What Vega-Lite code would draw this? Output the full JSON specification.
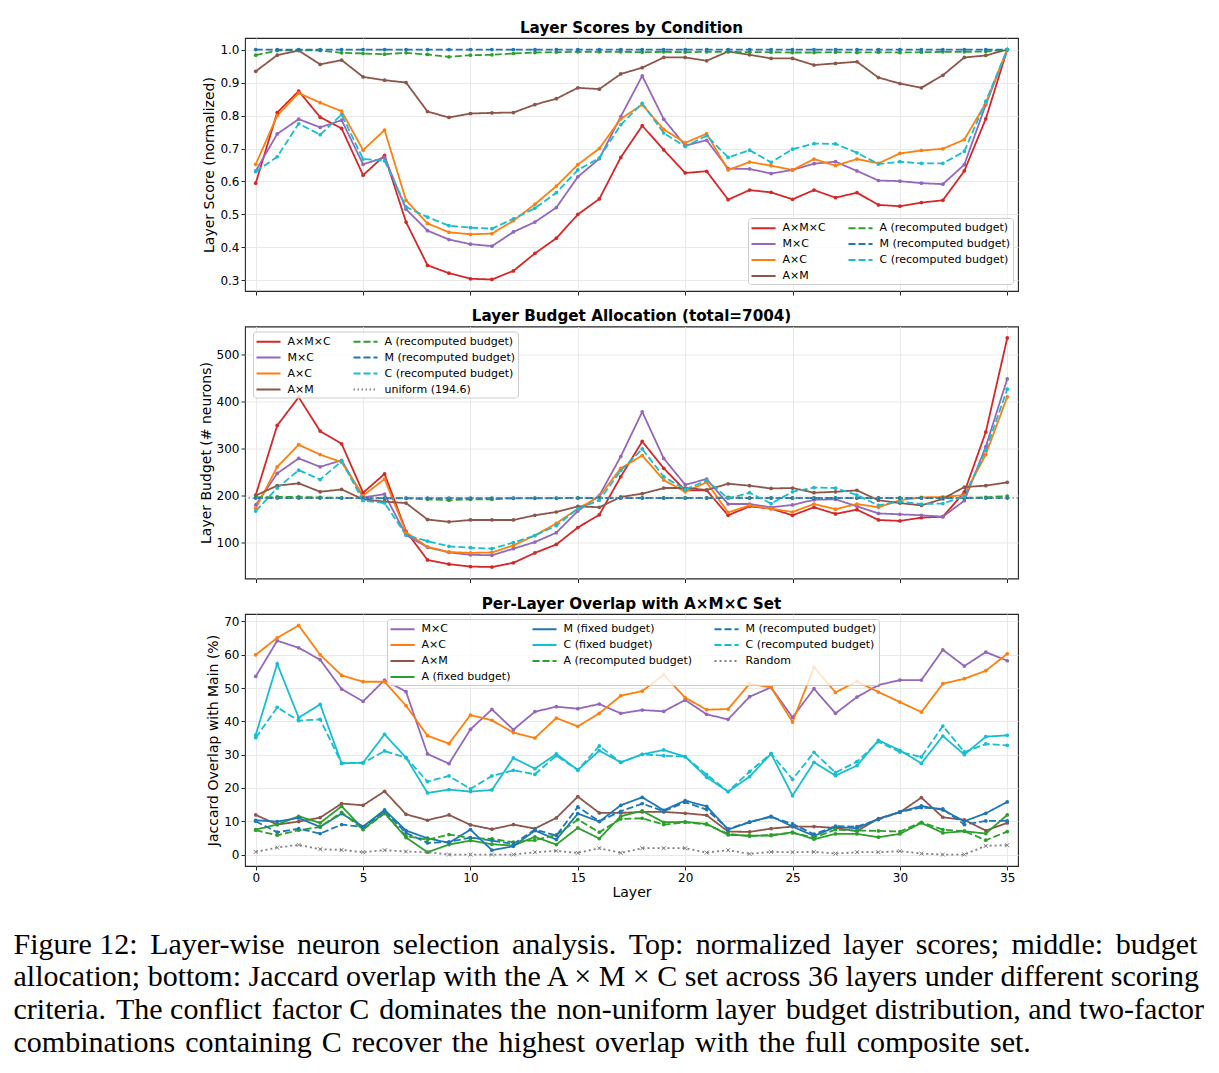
{
"$schema":"https://vega.github.io/schema/vega-lite/v6.json",
"padding":{"left":13,"top":20,"right":5,"bottom":5},
"config":{
 "font":"DejaVu Sans",
 "view":{"stroke":"#262626","strokeWidth":1.1},
 "axis":{"labelFont":"DejaVu Sans","labelFontSize":12,"labelColor":"#000","titleFont":"DejaVu Sans","titleFontSize":14,"titleFontWeight":"normal","titleColor":"#000","gridColor":"#e6e6e6","gridWidth":0.9,"domain":false,"tickColor":"#262626","tickSize":4,"labelPadding":2,"titlePadding":3},
 "legend":{"labelFont":"DejaVu Sans","labelFontSize":11,"labelColor":"#000","symbolType":"M-1,0H2.7","symbolStrokeWidth":1.8,"symbolSize":169,"labelOffset":17,"rowPadding":3,"columnPadding":18,"padding":2.5,"fillColor":"rgba(255,255,255,0.8)","strokeColor":"#cccccc","cornerRadius":3,"labelLimit":400},
 "title":{"font":"DejaVu Sans","fontSize":15.2,"fontWeight":"bold","color":"#000"}
},
"title":{"text":["Figure 12: \u200a\u200aLayer-wise \u200a\u200aneuron \u200a\u200aselection \u200a\u200aanalysis. \u200a\u200aTop: \u200a\u200anormalized \u200a\u200alayer \u200a\u200ascores; \u200a\u200amiddle: \u200a\u200abudget","allocation; bottom: Jaccard overlap with the A × M × C set across 36 layers under different scoring","criteria. \u200aThe conflict \u200afactor C \u200adominates the \u200anon-uniform layer \u200abudget distribution, and two-factor","combinations \u200acontaining \u200aC \u200arecover \u200athe \u200ahighest \u200aoverlap \u200awith \u200athe \u200afull \u200acomposite \u200aset."],"orient":"bottom","anchor":"start","frame":"bounds","font":"Liberation Serif","fontSize":30,"fontWeight":"normal","lineHeight":32.8,"offset":30,"dx":-185,"baseline":"top","color":"#000"},
"spacing":11.5,
"resolve":{"scale":{"color":"independent","strokeDash":"independent"},"legend":{"color":"independent","strokeDash":"independent"}},
"datasets":{
"top":[
{"layer":0,"s":"A×M×C","v":0.595},{"layer":1,"s":"A×M×C","v":0.809},{"layer":2,"s":"A×M×C","v":0.874},{"layer":3,"s":"A×M×C","v":0.795},{"layer":4,"s":"A×M×C","v":0.761},{"layer":5,"s":"A×M×C","v":0.619},{"layer":6,"s":"A×M×C","v":0.679},{"layer":7,"s":"A×M×C","v":0.477},{"layer":8,"s":"A×M×C","v":0.346},{"layer":9,"s":"A×M×C","v":0.322},{"layer":10,"s":"A×M×C","v":0.305},{"layer":11,"s":"A×M×C","v":0.303},{"layer":12,"s":"A×M×C","v":0.329},{"layer":13,"s":"A×M×C","v":0.382},{"layer":14,"s":"A×M×C","v":0.428},{"layer":15,"s":"A×M×C","v":0.5},{"layer":16,"s":"A×M×C","v":0.547},{"layer":17,"s":"A×M×C","v":0.673},{"layer":18,"s":"A×M×C","v":0.769},{"layer":19,"s":"A×M×C","v":0.696},{"layer":20,"s":"A×M×C","v":0.626},{"layer":21,"s":"A×M×C","v":0.631},{"layer":22,"s":"A×M×C","v":0.545},{"layer":23,"s":"A×M×C","v":0.574},{"layer":24,"s":"A×M×C","v":0.567},{"layer":25,"s":"A×M×C","v":0.546},{"layer":26,"s":"A×M×C","v":0.574},{"layer":27,"s":"A×M×C","v":0.551},{"layer":28,"s":"A×M×C","v":0.566},{"layer":29,"s":"A×M×C","v":0.529},{"layer":30,"s":"A×M×C","v":0.525},{"layer":31,"s":"A×M×C","v":0.536},{"layer":32,"s":"A×M×C","v":0.543},{"layer":33,"s":"A×M×C","v":0.632},{"layer":34,"s":"A×M×C","v":0.79},{"layer":35,"s":"A×M×C","v":1.0},
{"layer":0,"s":"M×C","v":0.632},{"layer":1,"s":"M×C","v":0.744},{"layer":2,"s":"M×C","v":0.789},{"layer":3,"s":"M×C","v":0.764},{"layer":4,"s":"M×C","v":0.786},{"layer":5,"s":"M×C","v":0.652},{"layer":6,"s":"M×C","v":0.673},{"layer":7,"s":"M×C","v":0.516},{"layer":8,"s":"M×C","v":0.451},{"layer":9,"s":"M×C","v":0.424},{"layer":10,"s":"M×C","v":0.41},{"layer":11,"s":"M×C","v":0.404},{"layer":12,"s":"M×C","v":0.447},{"layer":13,"s":"M×C","v":0.477},{"layer":14,"s":"M×C","v":0.521},{"layer":15,"s":"M×C","v":0.614},{"layer":16,"s":"M×C","v":0.669},{"layer":17,"s":"M×C","v":0.797},{"layer":18,"s":"M×C","v":0.92},{"layer":19,"s":"M×C","v":0.789},{"layer":20,"s":"M×C","v":0.709},{"layer":21,"s":"M×C","v":0.725},{"layer":22,"s":"M×C","v":0.639},{"layer":23,"s":"M×C","v":0.638},{"layer":24,"s":"M×C","v":0.624},{"layer":25,"s":"M×C","v":0.635},{"layer":26,"s":"M×C","v":0.654},{"layer":27,"s":"M×C","v":0.66},{"layer":28,"s":"M×C","v":0.632},{"layer":29,"s":"M×C","v":0.603},{"layer":30,"s":"M×C","v":0.601},{"layer":31,"s":"M×C","v":0.595},{"layer":32,"s":"M×C","v":0.592},{"layer":33,"s":"M×C","v":0.651},{"layer":34,"s":"M×C","v":0.833},{"layer":35,"s":"M×C","v":1.0},
{"layer":0,"s":"A×C","v":0.652},{"layer":1,"s":"A×C","v":0.8},{"layer":2,"s":"A×C","v":0.868},{"layer":3,"s":"A×C","v":0.839},{"layer":4,"s":"A×C","v":0.813},{"layer":5,"s":"A×C","v":0.695},{"layer":6,"s":"A×C","v":0.756},{"layer":7,"s":"A×C","v":0.543},{"layer":8,"s":"A×C","v":0.473},{"layer":9,"s":"A×C","v":0.446},{"layer":10,"s":"A×C","v":0.44},{"layer":11,"s":"A×C","v":0.442},{"layer":12,"s":"A×C","v":0.481},{"layer":13,"s":"A×C","v":0.531},{"layer":14,"s":"A×C","v":0.586},{"layer":15,"s":"A×C","v":0.651},{"layer":16,"s":"A×C","v":0.7},{"layer":17,"s":"A×C","v":0.79},{"layer":18,"s":"A×C","v":0.833},{"layer":19,"s":"A×C","v":0.758},{"layer":20,"s":"A×C","v":0.717},{"layer":21,"s":"A×C","v":0.745},{"layer":22,"s":"A×C","v":0.635},{"layer":23,"s":"A×C","v":0.659},{"layer":24,"s":"A×C","v":0.648},{"layer":25,"s":"A×C","v":0.635},{"layer":26,"s":"A×C","v":0.668},{"layer":27,"s":"A×C","v":0.648},{"layer":28,"s":"A×C","v":0.668},{"layer":29,"s":"A×C","v":0.655},{"layer":30,"s":"A×C","v":0.685},{"layer":31,"s":"A×C","v":0.694},{"layer":32,"s":"A×C","v":0.699},{"layer":33,"s":"A×C","v":0.727},{"layer":34,"s":"A×C","v":0.838},{"layer":35,"s":"A×C","v":1.0},
{"layer":0,"s":"A×M","v":0.934},{"layer":1,"s":"A×M","v":0.983},{"layer":2,"s":"A×M","v":0.997},{"layer":3,"s":"A×M","v":0.955},{"layer":4,"s":"A×M","v":0.968},{"layer":5,"s":"A×M","v":0.917},{"layer":6,"s":"A×M","v":0.907},{"layer":7,"s":"A×M","v":0.9},{"layer":8,"s":"A×M","v":0.812},{"layer":9,"s":"A×M","v":0.794},{"layer":10,"s":"A×M","v":0.806},{"layer":11,"s":"A×M","v":0.808},{"layer":12,"s":"A×M","v":0.809},{"layer":13,"s":"A×M","v":0.833},{"layer":14,"s":"A×M","v":0.851},{"layer":15,"s":"A×M","v":0.884},{"layer":16,"s":"A×M","v":0.88},{"layer":17,"s":"A×M","v":0.926},{"layer":18,"s":"A×M","v":0.945},{"layer":19,"s":"A×M","v":0.976},{"layer":20,"s":"A×M","v":0.976},{"layer":21,"s":"A×M","v":0.966},{"layer":22,"s":"A×M","v":0.994},{"layer":23,"s":"A×M","v":0.984},{"layer":24,"s":"A×M","v":0.973},{"layer":25,"s":"A×M","v":0.973},{"layer":26,"s":"A×M","v":0.953},{"layer":27,"s":"A×M","v":0.958},{"layer":28,"s":"A×M","v":0.963},{"layer":29,"s":"A×M","v":0.915},{"layer":30,"s":"A×M","v":0.897},{"layer":31,"s":"A×M","v":0.884},{"layer":32,"s":"A×M","v":0.922},{"layer":33,"s":"A×M","v":0.976},{"layer":34,"s":"A×M","v":0.982},{"layer":35,"s":"A×M","v":1.0},
{"layer":0,"s":"A (recomputed budget)","v":0.983},{"layer":1,"s":"A (recomputed budget)","v":0.997},{"layer":2,"s":"A (recomputed budget)","v":0.998},{"layer":3,"s":"A (recomputed budget)","v":0.997},{"layer":4,"s":"A (recomputed budget)","v":0.99},{"layer":5,"s":"A (recomputed budget)","v":0.988},{"layer":6,"s":"A (recomputed budget)","v":0.986},{"layer":7,"s":"A (recomputed budget)","v":0.99},{"layer":8,"s":"A (recomputed budget)","v":0.985},{"layer":9,"s":"A (recomputed budget)","v":0.978},{"layer":10,"s":"A (recomputed budget)","v":0.983},{"layer":11,"s":"A (recomputed budget)","v":0.984},{"layer":12,"s":"A (recomputed budget)","v":0.988},{"layer":13,"s":"A (recomputed budget)","v":0.991},{"layer":14,"s":"A (recomputed budget)","v":0.992},{"layer":15,"s":"A (recomputed budget)","v":0.993},{"layer":16,"s":"A (recomputed budget)","v":0.993},{"layer":17,"s":"A (recomputed budget)","v":0.993},{"layer":18,"s":"A (recomputed budget)","v":0.992},{"layer":19,"s":"A (recomputed budget)","v":0.993},{"layer":20,"s":"A (recomputed budget)","v":0.992},{"layer":21,"s":"A (recomputed budget)","v":0.993},{"layer":22,"s":"A (recomputed budget)","v":0.993},{"layer":23,"s":"A (recomputed budget)","v":0.992},{"layer":24,"s":"A (recomputed budget)","v":0.992},{"layer":25,"s":"A (recomputed budget)","v":0.991},{"layer":26,"s":"A (recomputed budget)","v":0.991},{"layer":27,"s":"A (recomputed budget)","v":0.992},{"layer":28,"s":"A (recomputed budget)","v":0.991},{"layer":29,"s":"A (recomputed budget)","v":0.992},{"layer":30,"s":"A (recomputed budget)","v":0.991},{"layer":31,"s":"A (recomputed budget)","v":0.992},{"layer":32,"s":"A (recomputed budget)","v":0.993},{"layer":33,"s":"A (recomputed budget)","v":0.993},{"layer":34,"s":"A (recomputed budget)","v":0.994},{"layer":35,"s":"A (recomputed budget)","v":1.0},
{"layer":0,"s":"M (recomputed budget)","v":1.0},{"layer":1,"s":"M (recomputed budget)","v":1.0},{"layer":2,"s":"M (recomputed budget)","v":1.0},{"layer":3,"s":"M (recomputed budget)","v":1.0},{"layer":4,"s":"M (recomputed budget)","v":1.0},{"layer":5,"s":"M (recomputed budget)","v":1.0},{"layer":6,"s":"M (recomputed budget)","v":1.0},{"layer":7,"s":"M (recomputed budget)","v":1.0},{"layer":8,"s":"M (recomputed budget)","v":1.0},{"layer":9,"s":"M (recomputed budget)","v":1.0},{"layer":10,"s":"M (recomputed budget)","v":1.0},{"layer":11,"s":"M (recomputed budget)","v":1.0},{"layer":12,"s":"M (recomputed budget)","v":1.0},{"layer":13,"s":"M (recomputed budget)","v":1.0},{"layer":14,"s":"M (recomputed budget)","v":1.0},{"layer":15,"s":"M (recomputed budget)","v":1.0},{"layer":16,"s":"M (recomputed budget)","v":1.0},{"layer":17,"s":"M (recomputed budget)","v":1.0},{"layer":18,"s":"M (recomputed budget)","v":1.0},{"layer":19,"s":"M (recomputed budget)","v":1.0},{"layer":20,"s":"M (recomputed budget)","v":1.0},{"layer":21,"s":"M (recomputed budget)","v":1.0},{"layer":22,"s":"M (recomputed budget)","v":1.0},{"layer":23,"s":"M (recomputed budget)","v":1.0},{"layer":24,"s":"M (recomputed budget)","v":1.0},{"layer":25,"s":"M (recomputed budget)","v":1.0},{"layer":26,"s":"M (recomputed budget)","v":1.0},{"layer":27,"s":"M (recomputed budget)","v":1.0},{"layer":28,"s":"M (recomputed budget)","v":1.0},{"layer":29,"s":"M (recomputed budget)","v":1.0},{"layer":30,"s":"M (recomputed budget)","v":1.0},{"layer":31,"s":"M (recomputed budget)","v":1.0},{"layer":32,"s":"M (recomputed budget)","v":1.0},{"layer":33,"s":"M (recomputed budget)","v":1.0},{"layer":34,"s":"M (recomputed budget)","v":1.0},{"layer":35,"s":"M (recomputed budget)","v":1.0},
{"layer":0,"s":"C (recomputed budget)","v":0.63},{"layer":1,"s":"C (recomputed budget)","v":0.675},{"layer":2,"s":"C (recomputed budget)","v":0.775},{"layer":3,"s":"C (recomputed budget)","v":0.742},{"layer":4,"s":"C (recomputed budget)","v":0.803},{"layer":5,"s":"C (recomputed budget)","v":0.668},{"layer":6,"s":"C (recomputed budget)","v":0.663},{"layer":7,"s":"C (recomputed budget)","v":0.523},{"layer":8,"s":"C (recomputed budget)","v":0.492},{"layer":9,"s":"C (recomputed budget)","v":0.466},{"layer":10,"s":"C (recomputed budget)","v":0.46},{"layer":11,"s":"C (recomputed budget)","v":0.457},{"layer":12,"s":"C (recomputed budget)","v":0.487},{"layer":13,"s":"C (recomputed budget)","v":0.519},{"layer":14,"s":"C (recomputed budget)","v":0.566},{"layer":15,"s":"C (recomputed budget)","v":0.635},{"layer":16,"s":"C (recomputed budget)","v":0.671},{"layer":17,"s":"C (recomputed budget)","v":0.772},{"layer":18,"s":"C (recomputed budget)","v":0.837},{"layer":19,"s":"C (recomputed budget)","v":0.747},{"layer":20,"s":"C (recomputed budget)","v":0.706},{"layer":21,"s":"C (recomputed budget)","v":0.739},{"layer":22,"s":"C (recomputed budget)","v":0.673},{"layer":23,"s":"C (recomputed budget)","v":0.695},{"layer":24,"s":"C (recomputed budget)","v":0.658},{"layer":25,"s":"C (recomputed budget)","v":0.698},{"layer":26,"s":"C (recomputed budget)","v":0.715},{"layer":27,"s":"C (recomputed budget)","v":0.714},{"layer":28,"s":"C (recomputed budget)","v":0.687},{"layer":29,"s":"C (recomputed budget)","v":0.653},{"layer":30,"s":"C (recomputed budget)","v":0.66},{"layer":31,"s":"C (recomputed budget)","v":0.655},{"layer":32,"s":"C (recomputed budget)","v":0.655},{"layer":33,"s":"C (recomputed budget)","v":0.691},{"layer":34,"s":"C (recomputed budget)","v":0.843},{"layer":35,"s":"C (recomputed budget)","v":1.0}
],
"mid":[
{"layer":0,"s":"A×M×C","v":201},{"layer":1,"s":"A×M×C","v":349},{"layer":2,"s":"A×M×C","v":409},{"layer":3,"s":"A×M×C","v":337},{"layer":4,"s":"A×M×C","v":310},{"layer":5,"s":"A×M×C","v":206},{"layer":6,"s":"A×M×C","v":246},{"layer":7,"s":"A×M×C","v":124},{"layer":8,"s":"A×M×C","v":63},{"layer":9,"s":"A×M×C","v":54},{"layer":10,"s":"A×M×C","v":49},{"layer":11,"s":"A×M×C","v":48},{"layer":12,"s":"A×M×C","v":57},{"layer":13,"s":"A×M×C","v":78},{"layer":14,"s":"A×M×C","v":96},{"layer":15,"s":"A×M×C","v":132},{"layer":16,"s":"A×M×C","v":159},{"layer":17,"s":"A×M×C","v":240},{"layer":18,"s":"A×M×C","v":315},{"layer":19,"s":"A×M×C","v":258},{"layer":20,"s":"A×M×C","v":211},{"layer":21,"s":"A×M×C","v":211},{"layer":22,"s":"A×M×C","v":158},{"layer":23,"s":"A×M×C","v":177},{"layer":24,"s":"A×M×C","v":172},{"layer":25,"s":"A×M×C","v":158},{"layer":26,"s":"A×M×C","v":175},{"layer":27,"s":"A×M×C","v":161},{"layer":28,"s":"A×M×C","v":170},{"layer":29,"s":"A×M×C","v":148},{"layer":30,"s":"A×M×C","v":146},{"layer":31,"s":"A×M×C","v":153},{"layer":32,"s":"A×M×C","v":155},{"layer":33,"s":"A×M×C","v":207},{"layer":34,"s":"A×M×C","v":335},{"layer":35,"s":"A×M×C","v":535},
{"layer":0,"s":"M×C","v":180},{"layer":1,"s":"M×C","v":247},{"layer":2,"s":"M×C","v":279},{"layer":3,"s":"M×C","v":261},{"layer":4,"s":"M×C","v":275},{"layer":5,"s":"M×C","v":196},{"layer":6,"s":"M×C","v":203},{"layer":7,"s":"M×C","v":116},{"layer":8,"s":"M×C","v":90},{"layer":9,"s":"M×C","v":79},{"layer":10,"s":"M×C","v":74},{"layer":11,"s":"M×C","v":73},{"layer":12,"s":"M×C","v":87},{"layer":13,"s":"M×C","v":101},{"layer":14,"s":"M×C","v":121},{"layer":15,"s":"M×C","v":167},{"layer":16,"s":"M×C","v":200},{"layer":17,"s":"M×C","v":283},{"layer":18,"s":"M×C","v":378},{"layer":19,"s":"M×C","v":279},{"layer":20,"s":"M×C","v":223},{"layer":21,"s":"M×C","v":235},{"layer":22,"s":"M×C","v":182},{"layer":23,"s":"M×C","v":182},{"layer":24,"s":"M×C","v":175},{"layer":25,"s":"M×C","v":180},{"layer":26,"s":"M×C","v":191},{"layer":27,"s":"M×C","v":192},{"layer":28,"s":"M×C","v":177},{"layer":29,"s":"M×C","v":162},{"layer":30,"s":"M×C","v":160},{"layer":31,"s":"M×C","v":158},{"layer":32,"s":"M×C","v":155},{"layer":33,"s":"M×C","v":189},{"layer":34,"s":"M×C","v":304},{"layer":35,"s":"M×C","v":448},
{"layer":0,"s":"A×C","v":173},{"layer":1,"s":"A×C","v":261},{"layer":2,"s":"A×C","v":308},{"layer":3,"s":"A×C","v":287},{"layer":4,"s":"A×C","v":271},{"layer":5,"s":"A×C","v":200},{"layer":6,"s":"A×C","v":235},{"layer":7,"s":"A×C","v":122},{"layer":8,"s":"A×C","v":91},{"layer":9,"s":"A×C","v":80},{"layer":10,"s":"A×C","v":78},{"layer":11,"s":"A×C","v":79},{"layer":12,"s":"A×C","v":94},{"layer":13,"s":"A×C","v":115},{"layer":14,"s":"A×C","v":141},{"layer":15,"s":"A×C","v":172},{"layer":16,"s":"A×C","v":198},{"layer":17,"s":"A×C","v":258},{"layer":18,"s":"A×C","v":285},{"layer":19,"s":"A×C","v":233},{"layer":20,"s":"A×C","v":208},{"layer":21,"s":"A×C","v":228},{"layer":22,"s":"A×C","v":164},{"layer":23,"s":"A×C","v":179},{"layer":24,"s":"A×C","v":172},{"layer":25,"s":"A×C","v":165},{"layer":26,"s":"A×C","v":182},{"layer":27,"s":"A×C","v":171},{"layer":28,"s":"A×C","v":182},{"layer":29,"s":"A×C","v":175},{"layer":30,"s":"A×C","v":190},{"layer":31,"s":"A×C","v":196},{"layer":32,"s":"A×C","v":197},{"layer":33,"s":"A×C","v":201},{"layer":34,"s":"A×C","v":287},{"layer":35,"s":"A×C","v":410},
{"layer":0,"s":"A×M","v":200},{"layer":1,"s":"A×M","v":221},{"layer":2,"s":"A×M","v":226},{"layer":3,"s":"A×M","v":208},{"layer":4,"s":"A×M","v":213},{"layer":5,"s":"A×M","v":192},{"layer":6,"s":"A×M","v":187},{"layer":7,"s":"A×M","v":184},{"layer":8,"s":"A×M","v":149},{"layer":9,"s":"A×M","v":144},{"layer":10,"s":"A×M","v":148},{"layer":11,"s":"A×M","v":148},{"layer":12,"s":"A×M","v":148},{"layer":13,"s":"A×M","v":158},{"layer":14,"s":"A×M","v":165},{"layer":15,"s":"A×M","v":177},{"layer":16,"s":"A×M","v":175},{"layer":17,"s":"A×M","v":197},{"layer":18,"s":"A×M","v":204},{"layer":19,"s":"A×M","v":216},{"layer":20,"s":"A×M","v":216},{"layer":21,"s":"A×M","v":212},{"layer":22,"s":"A×M","v":225},{"layer":23,"s":"A×M","v":221},{"layer":24,"s":"A×M","v":215},{"layer":25,"s":"A×M","v":216},{"layer":26,"s":"A×M","v":206},{"layer":27,"s":"A×M","v":208},{"layer":28,"s":"A×M","v":211},{"layer":29,"s":"A×M","v":190},{"layer":30,"s":"A×M","v":184},{"layer":31,"s":"A×M","v":179},{"layer":32,"s":"A×M","v":193},{"layer":33,"s":"A×M","v":218},{"layer":34,"s":"A×M","v":221},{"layer":35,"s":"A×M","v":228},
{"layer":0,"s":"A (recomputed budget)","v":196},{"layer":1,"s":"A (recomputed budget)","v":197},{"layer":2,"s":"A (recomputed budget)","v":197},{"layer":3,"s":"A (recomputed budget)","v":196},{"layer":4,"s":"A (recomputed budget)","v":195},{"layer":5,"s":"A (recomputed budget)","v":194},{"layer":6,"s":"A (recomputed budget)","v":194},{"layer":7,"s":"A (recomputed budget)","v":194},{"layer":8,"s":"A (recomputed budget)","v":192},{"layer":9,"s":"A (recomputed budget)","v":190},{"layer":10,"s":"A (recomputed budget)","v":192},{"layer":11,"s":"A (recomputed budget)","v":192},{"layer":12,"s":"A (recomputed budget)","v":194},{"layer":13,"s":"A (recomputed budget)","v":194},{"layer":14,"s":"A (recomputed budget)","v":194},{"layer":15,"s":"A (recomputed budget)","v":195},{"layer":16,"s":"A (recomputed budget)","v":195},{"layer":17,"s":"A (recomputed budget)","v":195},{"layer":18,"s":"A (recomputed budget)","v":195},{"layer":19,"s":"A (recomputed budget)","v":195},{"layer":20,"s":"A (recomputed budget)","v":195},{"layer":21,"s":"A (recomputed budget)","v":195},{"layer":22,"s":"A (recomputed budget)","v":196},{"layer":23,"s":"A (recomputed budget)","v":195},{"layer":24,"s":"A (recomputed budget)","v":195},{"layer":25,"s":"A (recomputed budget)","v":195},{"layer":26,"s":"A (recomputed budget)","v":195},{"layer":27,"s":"A (recomputed budget)","v":195},{"layer":28,"s":"A (recomputed budget)","v":195},{"layer":29,"s":"A (recomputed budget)","v":195},{"layer":30,"s":"A (recomputed budget)","v":195},{"layer":31,"s":"A (recomputed budget)","v":195},{"layer":32,"s":"A (recomputed budget)","v":195},{"layer":33,"s":"A (recomputed budget)","v":195},{"layer":34,"s":"A (recomputed budget)","v":196},{"layer":35,"s":"A (recomputed budget)","v":199},
{"layer":0,"s":"M (recomputed budget)","v":194.5},{"layer":1,"s":"M (recomputed budget)","v":194.5},{"layer":2,"s":"M (recomputed budget)","v":194.5},{"layer":3,"s":"M (recomputed budget)","v":194.5},{"layer":4,"s":"M (recomputed budget)","v":194.5},{"layer":5,"s":"M (recomputed budget)","v":194.5},{"layer":6,"s":"M (recomputed budget)","v":194.5},{"layer":7,"s":"M (recomputed budget)","v":194.5},{"layer":8,"s":"M (recomputed budget)","v":194.5},{"layer":9,"s":"M (recomputed budget)","v":194.5},{"layer":10,"s":"M (recomputed budget)","v":194.5},{"layer":11,"s":"M (recomputed budget)","v":194.5},{"layer":12,"s":"M (recomputed budget)","v":194.5},{"layer":13,"s":"M (recomputed budget)","v":194.5},{"layer":14,"s":"M (recomputed budget)","v":194.5},{"layer":15,"s":"M (recomputed budget)","v":194.5},{"layer":16,"s":"M (recomputed budget)","v":194.5},{"layer":17,"s":"M (recomputed budget)","v":194.5},{"layer":18,"s":"M (recomputed budget)","v":194.5},{"layer":19,"s":"M (recomputed budget)","v":194.5},{"layer":20,"s":"M (recomputed budget)","v":194.5},{"layer":21,"s":"M (recomputed budget)","v":194.5},{"layer":22,"s":"M (recomputed budget)","v":194.5},{"layer":23,"s":"M (recomputed budget)","v":194.5},{"layer":24,"s":"M (recomputed budget)","v":194.5},{"layer":25,"s":"M (recomputed budget)","v":194.5},{"layer":26,"s":"M (recomputed budget)","v":194.5},{"layer":27,"s":"M (recomputed budget)","v":194.5},{"layer":28,"s":"M (recomputed budget)","v":194.5},{"layer":29,"s":"M (recomputed budget)","v":194.5},{"layer":30,"s":"M (recomputed budget)","v":194.5},{"layer":31,"s":"M (recomputed budget)","v":194.5},{"layer":32,"s":"M (recomputed budget)","v":194.5},{"layer":33,"s":"M (recomputed budget)","v":194.5},{"layer":34,"s":"M (recomputed budget)","v":194.5},{"layer":35,"s":"M (recomputed budget)","v":194.5},
{"layer":0,"s":"C (recomputed budget)","v":167},{"layer":1,"s":"C (recomputed budget)","v":216},{"layer":2,"s":"C (recomputed budget)","v":254},{"layer":3,"s":"C (recomputed budget)","v":234},{"layer":4,"s":"C (recomputed budget)","v":273},{"layer":5,"s":"C (recomputed budget)","v":189},{"layer":6,"s":"C (recomputed budget)","v":184},{"layer":7,"s":"C (recomputed budget)","v":116},{"layer":8,"s":"C (recomputed budget)","v":103},{"layer":9,"s":"C (recomputed budget)","v":92},{"layer":10,"s":"C (recomputed budget)","v":89},{"layer":11,"s":"C (recomputed budget)","v":87},{"layer":12,"s":"C (recomputed budget)","v":100},{"layer":13,"s":"C (recomputed budget)","v":115},{"layer":14,"s":"C (recomputed budget)","v":136},{"layer":15,"s":"C (recomputed budget)","v":172},{"layer":16,"s":"C (recomputed budget)","v":190},{"layer":17,"s":"C (recomputed budget)","v":253},{"layer":18,"s":"C (recomputed budget)","v":299},{"layer":19,"s":"C (recomputed budget)","v":240},{"layer":20,"s":"C (recomputed budget)","v":213},{"layer":21,"s":"C (recomputed budget)","v":232},{"layer":22,"s":"C (recomputed budget)","v":194},{"layer":23,"s":"C (recomputed budget)","v":206},{"layer":24,"s":"C (recomputed budget)","v":183},{"layer":25,"s":"C (recomputed budget)","v":208},{"layer":26,"s":"C (recomputed budget)","v":217},{"layer":27,"s":"C (recomputed budget)","v":216},{"layer":28,"s":"C (recomputed budget)","v":201},{"layer":29,"s":"C (recomputed budget)","v":179},{"layer":30,"s":"C (recomputed budget)","v":187},{"layer":31,"s":"C (recomputed budget)","v":182},{"layer":32,"s":"C (recomputed budget)","v":183},{"layer":33,"s":"C (recomputed budget)","v":198},{"layer":34,"s":"C (recomputed budget)","v":296},{"layer":35,"s":"C (recomputed budget)","v":426}
],
"uniform":[{"s":"uniform (194.6)","v":194.6}],
"bot":[
{"layer":0,"s":"M×C","v":53.5},{"layer":1,"s":"M×C","v":64.2},{"layer":2,"s":"M×C","v":62.1},{"layer":3,"s":"M×C","v":58.5},{"layer":4,"s":"M×C","v":49.7},{"layer":5,"s":"M×C","v":46.0},{"layer":6,"s":"M×C","v":52.4},{"layer":7,"s":"M×C","v":48.9},{"layer":8,"s":"M×C","v":30.2},{"layer":9,"s":"M×C","v":27.3},{"layer":10,"s":"M×C","v":37.6},{"layer":11,"s":"M×C","v":43.6},{"layer":12,"s":"M×C","v":37.5},{"layer":13,"s":"M×C","v":42.9},{"layer":14,"s":"M×C","v":44.4},{"layer":15,"s":"M×C","v":43.8},{"layer":16,"s":"M×C","v":45.2},{"layer":17,"s":"M×C","v":42.4},{"layer":18,"s":"M×C","v":43.4},{"layer":19,"s":"M×C","v":43.0},{"layer":20,"s":"M×C","v":46.4},{"layer":21,"s":"M×C","v":42.1},{"layer":22,"s":"M×C","v":40.6},{"layer":23,"s":"M×C","v":47.4},{"layer":24,"s":"M×C","v":50.2},{"layer":25,"s":"M×C","v":41.2},{"layer":26,"s":"M×C","v":49.8},{"layer":27,"s":"M×C","v":42.4},{"layer":28,"s":"M×C","v":47.3},{"layer":29,"s":"M×C","v":50.9},{"layer":30,"s":"M×C","v":52.4},{"layer":31,"s":"M×C","v":52.4},{"layer":32,"s":"M×C","v":61.5},{"layer":33,"s":"M×C","v":56.6},{"layer":34,"s":"M×C","v":60.8},{"layer":35,"s":"M×C","v":58.2},
{"layer":0,"s":"A×C","v":60.0},{"layer":1,"s":"A×C","v":65.1},{"layer":2,"s":"A×C","v":68.8},{"layer":3,"s":"A×C","v":60.0},{"layer":4,"s":"A×C","v":53.8},{"layer":5,"s":"A×C","v":51.9},{"layer":6,"s":"A×C","v":51.9},{"layer":7,"s":"A×C","v":44.7},{"layer":8,"s":"A×C","v":35.7},{"layer":9,"s":"A×C","v":33.3},{"layer":10,"s":"A×C","v":41.9},{"layer":11,"s":"A×C","v":40.3},{"layer":12,"s":"A×C","v":36.6},{"layer":13,"s":"A×C","v":35.0},{"layer":14,"s":"A×C","v":41.0},{"layer":15,"s":"A×C","v":38.5},{"layer":16,"s":"A×C","v":42.4},{"layer":17,"s":"A×C","v":47.7},{"layer":18,"s":"A×C","v":49.1},{"layer":19,"s":"A×C","v":54.0},{"layer":20,"s":"A×C","v":47.1},{"layer":21,"s":"A×C","v":43.5},{"layer":22,"s":"A×C","v":43.7},{"layer":23,"s":"A×C","v":51.3},{"layer":24,"s":"A×C","v":50.2},{"layer":25,"s":"A×C","v":39.8},{"layer":26,"s":"A×C","v":56.3},{"layer":27,"s":"A×C","v":48.7},{"layer":28,"s":"A×C","v":52.0},{"layer":29,"s":"A×C","v":48.8},{"layer":30,"s":"A×C","v":45.8},{"layer":31,"s":"A×C","v":42.8},{"layer":32,"s":"A×C","v":51.3},{"layer":33,"s":"A×C","v":52.8},{"layer":34,"s":"A×C","v":55.2},{"layer":35,"s":"A×C","v":60.3},
{"layer":0,"s":"A×M","v":11.9},{"layer":1,"s":"A×M","v":9.0},{"layer":2,"s":"A×M","v":9.9},{"layer":3,"s":"A×M","v":11.1},{"layer":4,"s":"A×M","v":15.3},{"layer":5,"s":"A×M","v":14.8},{"layer":6,"s":"A×M","v":19.0},{"layer":7,"s":"A×M","v":12.1},{"layer":8,"s":"A×M","v":10.3},{"layer":9,"s":"A×M","v":11.9},{"layer":10,"s":"A×M","v":8.9},{"layer":11,"s":"A×M","v":7.6},{"layer":12,"s":"A×M","v":9.0},{"layer":13,"s":"A×M","v":7.8},{"layer":14,"s":"A×M","v":11.0},{"layer":15,"s":"A×M","v":17.4},{"layer":16,"s":"A×M","v":12.5},{"layer":17,"s":"A×M","v":12.5},{"layer":18,"s":"A×M","v":12.8},{"layer":19,"s":"A×M","v":12.8},{"layer":20,"s":"A×M","v":12.4},{"layer":21,"s":"A×M","v":11.8},{"layer":22,"s":"A×M","v":6.9},{"layer":23,"s":"A×M","v":6.8},{"layer":24,"s":"A×M","v":7.8},{"layer":25,"s":"A×M","v":8.4},{"layer":26,"s":"A×M","v":8.4},{"layer":27,"s":"A×M","v":8.0},{"layer":28,"s":"A×M","v":7.0},{"layer":29,"s":"A×M","v":10.8},{"layer":30,"s":"A×M","v":12.7},{"layer":31,"s":"A×M","v":17.1},{"layer":32,"s":"A×M","v":11.2},{"layer":33,"s":"A×M","v":10.4},{"layer":34,"s":"A×M","v":7.2},{"layer":35,"s":"A×M","v":9.5},
{"layer":0,"s":"A (fixed budget)","v":7.5},{"layer":1,"s":"A (fixed budget)","v":9.0},{"layer":2,"s":"A (fixed budget)","v":11.5},{"layer":3,"s":"A (fixed budget)","v":9.5},{"layer":4,"s":"A (fixed budget)","v":14.5},{"layer":5,"s":"A (fixed budget)","v":7.7},{"layer":6,"s":"A (fixed budget)","v":12.5},{"layer":7,"s":"A (fixed budget)","v":5.1},{"layer":8,"s":"A (fixed budget)","v":0.7},{"layer":9,"s":"A (fixed budget)","v":3.0},{"layer":10,"s":"A (fixed budget)","v":4.2},{"layer":11,"s":"A (fixed budget)","v":3.1},{"layer":12,"s":"A (fixed budget)","v":2.7},{"layer":13,"s":"A (fixed budget)","v":5.3},{"layer":14,"s":"A (fixed budget)","v":3.0},{"layer":15,"s":"A (fixed budget)","v":8.0},{"layer":16,"s":"A (fixed budget)","v":4.8},{"layer":17,"s":"A (fixed budget)","v":11.5},{"layer":18,"s":"A (fixed budget)","v":13.1},{"layer":19,"s":"A (fixed budget)","v":9.7},{"layer":20,"s":"A (fixed budget)","v":9.8},{"layer":21,"s":"A (fixed budget)","v":9.2},{"layer":22,"s":"A (fixed budget)","v":5.9},{"layer":23,"s":"A (fixed budget)","v":5.7},{"layer":24,"s":"A (fixed budget)","v":5.7},{"layer":25,"s":"A (fixed budget)","v":6.7},{"layer":26,"s":"A (fixed budget)","v":4.6},{"layer":27,"s":"A (fixed budget)","v":6.2},{"layer":28,"s":"A (fixed budget)","v":6.2},{"layer":29,"s":"A (fixed budget)","v":5.2},{"layer":30,"s":"A (fixed budget)","v":6.2},{"layer":31,"s":"A (fixed budget)","v":9.5},{"layer":32,"s":"A (fixed budget)","v":6.5},{"layer":33,"s":"A (fixed budget)","v":7.0},{"layer":34,"s":"A (fixed budget)","v":6.3},{"layer":35,"s":"A (fixed budget)","v":11.9},
{"layer":0,"s":"M (fixed budget)","v":10.3},{"layer":1,"s":"M (fixed budget)","v":9.9},{"layer":2,"s":"M (fixed budget)","v":11.0},{"layer":3,"s":"M (fixed budget)","v":8.3},{"layer":4,"s":"M (fixed budget)","v":12.3},{"layer":5,"s":"M (fixed budget)","v":8.4},{"layer":6,"s":"M (fixed budget)","v":13.4},{"layer":7,"s":"M (fixed budget)","v":7.2},{"layer":8,"s":"M (fixed budget)","v":4.9},{"layer":9,"s":"M (fixed budget)","v":3.5},{"layer":10,"s":"M (fixed budget)","v":7.5},{"layer":11,"s":"M (fixed budget)","v":1.3},{"layer":12,"s":"M (fixed budget)","v":2.5},{"layer":13,"s":"M (fixed budget)","v":7.2},{"layer":14,"s":"M (fixed budget)","v":4.5},{"layer":15,"s":"M (fixed budget)","v":12.3},{"layer":16,"s":"M (fixed budget)","v":9.9},{"layer":17,"s":"M (fixed budget)","v":14.8},{"layer":18,"s":"M (fixed budget)","v":17.2},{"layer":19,"s":"M (fixed budget)","v":13.3},{"layer":20,"s":"M (fixed budget)","v":16.2},{"layer":21,"s":"M (fixed budget)","v":14.5},{"layer":22,"s":"M (fixed budget)","v":7.5},{"layer":23,"s":"M (fixed budget)","v":9.7},{"layer":24,"s":"M (fixed budget)","v":11.5},{"layer":25,"s":"M (fixed budget)","v":8.4},{"layer":26,"s":"M (fixed budget)","v":5.6},{"layer":27,"s":"M (fixed budget)","v":8.3},{"layer":28,"s":"M (fixed budget)","v":7.9},{"layer":29,"s":"M (fixed budget)","v":10.7},{"layer":30,"s":"M (fixed budget)","v":12.8},{"layer":31,"s":"M (fixed budget)","v":14.6},{"layer":32,"s":"M (fixed budget)","v":13.4},{"layer":33,"s":"M (fixed budget)","v":10.0},{"layer":34,"s":"M (fixed budget)","v":12.4},{"layer":35,"s":"M (fixed budget)","v":15.8},
{"layer":0,"s":"C (fixed budget)","v":35.9},{"layer":1,"s":"C (fixed budget)","v":57.3},{"layer":2,"s":"C (fixed budget)","v":41.1},{"layer":3,"s":"C (fixed budget)","v":45.1},{"layer":4,"s":"C (fixed budget)","v":27.4},{"layer":5,"s":"C (fixed budget)","v":27.6},{"layer":6,"s":"C (fixed budget)","v":36.1},{"layer":7,"s":"C (fixed budget)","v":29.1},{"layer":8,"s":"C (fixed budget)","v":18.5},{"layer":9,"s":"C (fixed budget)","v":19.5},{"layer":10,"s":"C (fixed budget)","v":18.9},{"layer":11,"s":"C (fixed budget)","v":19.4},{"layer":12,"s":"C (fixed budget)","v":29.0},{"layer":13,"s":"C (fixed budget)","v":25.8},{"layer":14,"s":"C (fixed budget)","v":30.2},{"layer":15,"s":"C (fixed budget)","v":25.4},{"layer":16,"s":"C (fixed budget)","v":31.2},{"layer":17,"s":"C (fixed budget)","v":27.7},{"layer":18,"s":"C (fixed budget)","v":30.1},{"layer":19,"s":"C (fixed budget)","v":31.4},{"layer":20,"s":"C (fixed budget)","v":29.4},{"layer":21,"s":"C (fixed budget)","v":23.2},{"layer":22,"s":"C (fixed budget)","v":18.9},{"layer":23,"s":"C (fixed budget)","v":23.4},{"layer":24,"s":"C (fixed budget)","v":30.3},{"layer":25,"s":"C (fixed budget)","v":17.7},{"layer":26,"s":"C (fixed budget)","v":27.7},{"layer":27,"s":"C (fixed budget)","v":23.7},{"layer":28,"s":"C (fixed budget)","v":26.7},{"layer":29,"s":"C (fixed budget)","v":34.3},{"layer":30,"s":"C (fixed budget)","v":31.3},{"layer":31,"s":"C (fixed budget)","v":27.4},{"layer":32,"s":"C (fixed budget)","v":35.6},{"layer":33,"s":"C (fixed budget)","v":30.0},{"layer":34,"s":"C (fixed budget)","v":35.4},{"layer":35,"s":"C (fixed budget)","v":35.8},
{"layer":0,"s":"A (recomputed budget)","v":7.3},{"layer":1,"s":"A (recomputed budget)","v":5.8},{"layer":2,"s":"A (recomputed budget)","v":7.3},{"layer":3,"s":"A (recomputed budget)","v":8.3},{"layer":4,"s":"A (recomputed budget)","v":12.7},{"layer":5,"s":"A (recomputed budget)","v":7.5},{"layer":6,"s":"A (recomputed budget)","v":12.3},{"layer":7,"s":"A (recomputed budget)","v":5.5},{"layer":8,"s":"A (recomputed budget)","v":4.5},{"layer":9,"s":"A (recomputed budget)","v":6.0},{"layer":10,"s":"A (recomputed budget)","v":5.0},{"layer":11,"s":"A (recomputed budget)","v":4.7},{"layer":12,"s":"A (recomputed budget)","v":3.7},{"layer":13,"s":"A (recomputed budget)","v":4.3},{"layer":14,"s":"A (recomputed budget)","v":5.9},{"layer":15,"s":"A (recomputed budget)","v":10.5},{"layer":16,"s":"A (recomputed budget)","v":6.7},{"layer":17,"s":"A (recomputed budget)","v":10.7},{"layer":18,"s":"A (recomputed budget)","v":10.9},{"layer":19,"s":"A (recomputed budget)","v":9.0},{"layer":20,"s":"A (recomputed budget)","v":9.7},{"layer":21,"s":"A (recomputed budget)","v":9.0},{"layer":22,"s":"A (recomputed budget)","v":6.2},{"layer":23,"s":"A (recomputed budget)","v":5.5},{"layer":24,"s":"A (recomputed budget)","v":5.9},{"layer":25,"s":"A (recomputed budget)","v":6.5},{"layer":26,"s":"A (recomputed budget)","v":5.1},{"layer":27,"s":"A (recomputed budget)","v":7.5},{"layer":28,"s":"A (recomputed budget)","v":7.2},{"layer":29,"s":"A (recomputed budget)","v":7.1},{"layer":30,"s":"A (recomputed budget)","v":6.9},{"layer":31,"s":"A (recomputed budget)","v":9.7},{"layer":32,"s":"A (recomputed budget)","v":7.5},{"layer":33,"s":"A (recomputed budget)","v":7.0},{"layer":34,"s":"A (recomputed budget)","v":4.3},{"layer":35,"s":"A (recomputed budget)","v":6.9},
{"layer":0,"s":"M (recomputed budget)","v":10.0},{"layer":1,"s":"M (recomputed budget)","v":6.7},{"layer":2,"s":"M (recomputed budget)","v":7.8},{"layer":3,"s":"M (recomputed budget)","v":6.3},{"layer":4,"s":"M (recomputed budget)","v":9.0},{"layer":5,"s":"M (recomputed budget)","v":8.3},{"layer":6,"s":"M (recomputed budget)","v":13.0},{"layer":7,"s":"M (recomputed budget)","v":6.5},{"layer":8,"s":"M (recomputed budget)","v":3.5},{"layer":9,"s":"M (recomputed budget)","v":3.8},{"layer":10,"s":"M (recomputed budget)","v":5.1},{"layer":11,"s":"M (recomputed budget)","v":4.2},{"layer":12,"s":"M (recomputed budget)","v":3.2},{"layer":13,"s":"M (recomputed budget)","v":7.5},{"layer":14,"s":"M (recomputed budget)","v":5.7},{"layer":15,"s":"M (recomputed budget)","v":14.3},{"layer":16,"s":"M (recomputed budget)","v":10.0},{"layer":17,"s":"M (recomputed budget)","v":13.0},{"layer":18,"s":"M (recomputed budget)","v":15.3},{"layer":19,"s":"M (recomputed budget)","v":13.0},{"layer":20,"s":"M (recomputed budget)","v":15.7},{"layer":21,"s":"M (recomputed budget)","v":13.5},{"layer":22,"s":"M (recomputed budget)","v":7.7},{"layer":23,"s":"M (recomputed budget)","v":9.8},{"layer":24,"s":"M (recomputed budget)","v":11.3},{"layer":25,"s":"M (recomputed budget)","v":9.2},{"layer":26,"s":"M (recomputed budget)","v":6.1},{"layer":27,"s":"M (recomputed budget)","v":8.5},{"layer":28,"s":"M (recomputed budget)","v":8.4},{"layer":29,"s":"M (recomputed budget)","v":10.5},{"layer":30,"s":"M (recomputed budget)","v":12.8},{"layer":31,"s":"M (recomputed budget)","v":14.1},{"layer":32,"s":"M (recomputed budget)","v":13.7},{"layer":33,"s":"M (recomputed budget)","v":9.0},{"layer":34,"s":"M (recomputed budget)","v":10.1},{"layer":35,"s":"M (recomputed budget)","v":10.1},
{"layer":0,"s":"C (recomputed budget)","v":35.1},{"layer":1,"s":"C (recomputed budget)","v":44.2},{"layer":2,"s":"C (recomputed budget)","v":40.2},{"layer":3,"s":"C (recomputed budget)","v":40.6},{"layer":4,"s":"C (recomputed budget)","v":27.4},{"layer":5,"s":"C (recomputed budget)","v":27.5},{"layer":6,"s":"C (recomputed budget)","v":31.1},{"layer":7,"s":"C (recomputed budget)","v":29.1},{"layer":8,"s":"C (recomputed budget)","v":21.9},{"layer":9,"s":"C (recomputed budget)","v":23.6},{"layer":10,"s":"C (recomputed budget)","v":19.7},{"layer":11,"s":"C (recomputed budget)","v":23.6},{"layer":12,"s":"C (recomputed budget)","v":25.3},{"layer":13,"s":"C (recomputed budget)","v":24.1},{"layer":14,"s":"C (recomputed budget)","v":29.7},{"layer":15,"s":"C (recomputed budget)","v":25.4},{"layer":16,"s":"C (recomputed budget)","v":32.6},{"layer":17,"s":"C (recomputed budget)","v":27.7},{"layer":18,"s":"C (recomputed budget)","v":30.1},{"layer":19,"s":"C (recomputed budget)","v":29.7},{"layer":20,"s":"C (recomputed budget)","v":29.4},{"layer":21,"s":"C (recomputed budget)","v":24.0},{"layer":22,"s":"C (recomputed budget)","v":18.9},{"layer":23,"s":"C (recomputed budget)","v":24.9},{"layer":24,"s":"C (recomputed budget)","v":30.3},{"layer":25,"s":"C (recomputed budget)","v":22.6},{"layer":26,"s":"C (recomputed budget)","v":30.7},{"layer":27,"s":"C (recomputed budget)","v":24.6},{"layer":28,"s":"C (recomputed budget)","v":27.9},{"layer":29,"s":"C (recomputed budget)","v":33.9},{"layer":30,"s":"C (recomputed budget)","v":30.8},{"layer":31,"s":"C (recomputed budget)","v":29.3},{"layer":32,"s":"C (recomputed budget)","v":38.6},{"layer":33,"s":"C (recomputed budget)","v":30.8},{"layer":34,"s":"C (recomputed budget)","v":33.2},{"layer":35,"s":"C (recomputed budget)","v":32.8},
{"layer":0,"s":"Random","v":0.8},{"layer":1,"s":"Random","v":2.1},{"layer":2,"s":"Random","v":2.9},{"layer":3,"s":"Random","v":1.6},{"layer":4,"s":"Random","v":1.4},{"layer":5,"s":"Random","v":0.7},{"layer":6,"s":"Random","v":1.3},{"layer":7,"s":"Random","v":0.9},{"layer":8,"s":"Random","v":0.7},{"layer":9,"s":"Random","v":0.0},{"layer":10,"s":"Random","v":0.0},{"layer":11,"s":"Random","v":0.0},{"layer":12,"s":"Random","v":0.0},{"layer":13,"s":"Random","v":0.7},{"layer":14,"s":"Random","v":1.1},{"layer":15,"s":"Random","v":0.5},{"layer":16,"s":"Random","v":1.9},{"layer":17,"s":"Random","v":0.5},{"layer":18,"s":"Random","v":1.9},{"layer":19,"s":"Random","v":1.9},{"layer":20,"s":"Random","v":1.9},{"layer":21,"s":"Random","v":0.6},{"layer":22,"s":"Random","v":1.3},{"layer":23,"s":"Random","v":0.2},{"layer":24,"s":"Random","v":0.8},{"layer":25,"s":"Random","v":0.7},{"layer":26,"s":"Random","v":0.8},{"layer":27,"s":"Random","v":0.3},{"layer":28,"s":"Random","v":0.7},{"layer":29,"s":"Random","v":0.7},{"layer":30,"s":"Random","v":1.0},{"layer":31,"s":"Random","v":0.3},{"layer":32,"s":"Random","v":0.0},{"layer":33,"s":"Random","v":0.0},{"layer":34,"s":"Random","v":2.6},{"layer":35,"s":"Random","v":2.8}
]
},
"vconcat":[
{
 "width":773,"height":253,
 "title":{"text":"Layer Scores by Condition","anchor":"middle","frame":"group","offset":-10,"baseline":"alphabetic"},
 "data":{"name":"top"},
 "encoding":{
  "x":{"field":"layer","type":"quantitative","scale":{"domain":[-0.5,35.5],"nice":false,"zero":false},"axis":{"values":[0,5,10,15,20,25,30,35],"labels":false,"title":null}},
  "y":{"field":"v","type":"quantitative","scale":{"domain":[0.268,1.035],"nice":false,"zero":false},"axis":{"values":[0.3,0.4,0.5,0.6,0.7,0.8,0.9,1.0],"format":".1f","title":"Layer Score (normalized)"}}
 },
 "layer":[
  {"mark":{"type":"line","strokeWidth":1.8},
   "encoding":{
    "color":{"field":"s","type":"nominal","scale":{"domain":["A×M×C","M×C","A×C","A×M","A (recomputed budget)","M (recomputed budget)","C (recomputed budget)"],"range":["#d62728","#9467bd","#ff7f0e","#8c564b","#2ca02c","#1f77b4","#17becf"]},"legend":{"orient":"none","legendX":503,"legendY":180,"columns":2,"title":null}},
    "strokeDash":{"field":"s","type":"nominal","scale":{"domain":["A×M×C","M×C","A×C","A×M","A (recomputed budget)","M (recomputed budget)","C (recomputed budget)"],"range":[[1,0],[1,0],[1,0],[1,0],[7,3],[7,3],[7,3]]},"legend":{"orient":"none","legendX":503,"legendY":180,"columns":2,"title":null}}
   }},
  {"mark":{"type":"point","filled":true,"size":14,"opacity":1},
   "encoding":{"color":{"field":"s","type":"nominal","legend":null}}}
 ]
},
{
 "width":773,"height":252,
 "title":{"text":"Layer Budget Allocation (total=7004)","anchor":"middle","frame":"group","offset":-10,"baseline":"alphabetic"},
 "encoding":{
  "x":{"field":"layer","type":"quantitative","scale":{"domain":[-0.5,35.5],"nice":false,"zero":false},"axis":{"values":[0,5,10,15,20,25,30,35],"labels":false,"title":null}},
  "y":{"field":"v","type":"quantitative","scale":{"domain":[23.6,559.4],"nice":false,"zero":false},"axis":{"values":[100,200,300,400,500],"title":"Layer Budget (# neurons)"}}
 },
 "layer":[
  {"data":{"name":"mid"},"mark":{"type":"line","strokeWidth":1.8},
   "encoding":{
    "color":{"field":"s","type":"nominal","scale":{"domain":["A×M×C","M×C","A×C","A×M","A (recomputed budget)","M (recomputed budget)","C (recomputed budget)","uniform (194.6)"],"range":["#d62728","#9467bd","#ff7f0e","#8c564b","#2ca02c","#1f77b4","#17becf","#8a8a8a"]},"legend":{"orient":"none","legendX":8,"legendY":5,"columns":2,"title":null}},
    "strokeDash":{"field":"s","type":"nominal","scale":{"domain":["A×M×C","M×C","A×C","A×M","A (recomputed budget)","M (recomputed budget)","C (recomputed budget)","uniform (194.6)"],"range":[[1,0],[1,0],[1,0],[1,0],[7,3],[7,3],[7,3],[1.5,2.5]]},"legend":{"orient":"none","legendX":8,"legendY":5,"columns":2,"title":null}}
   }},
  {"data":{"name":"mid"},"mark":{"type":"point","filled":true,"size":14,"opacity":1},
   "encoding":{"color":{"field":"s","type":"nominal","legend":null}}},
  {"data":{"name":"uniform"},"mark":{"type":"rule","strokeWidth":1.5},
   "encoding":{"x":null,"y":{"field":"v","type":"quantitative"},
    "color":{"field":"s","type":"nominal"},
    "strokeDash":{"field":"s","type":"nominal"}}}
 ]
},
{
 "width":773,"height":252,
 "title":{"text":"Per-Layer Overlap with A×M×C Set","anchor":"middle","frame":"group","offset":-10,"baseline":"alphabetic"},
 "data":{"name":"bot"},
 "encoding":{
  "x":{"field":"layer","type":"quantitative","scale":{"domain":[-0.5,35.5],"nice":false,"zero":false},"axis":{"values":[0,5,10,15,20,25,30,35],"title":"Layer","labelPadding":2,"titlePadding":2}},
  "y":{"field":"v","type":"quantitative","scale":{"domain":[-3.44,72.24],"nice":false,"zero":false},"axis":{"values":[0,10,20,30,40,50,60,70],"title":"Jaccard Overlap with Main (%)"}}
 },
 "layer":[
  {"mark":{"type":"line","strokeWidth":1.8},
   "encoding":{
    "color":{"field":"s","type":"nominal","scale":{"domain":["M×C","A×C","A×M","Random","M (fixed budget)","C (fixed budget)","A (recomputed budget)","A (fixed budget)","M (recomputed budget)","C (recomputed budget)"],"range":["#9467bd","#ff7f0e","#8c564b","#7f7f7f","#1f77b4","#17becf","#2ca02c","#2ca02c","#1f77b4","#17becf"]},"legend":{"orient":"none","legendX":142,"legendY":5,"columns":3,"title":null}},
    "strokeDash":{"field":"s","type":"nominal","scale":{"domain":["M×C","A×C","A×M","Random","M (fixed budget)","C (fixed budget)","A (recomputed budget)","A (fixed budget)","M (recomputed budget)","C (recomputed budget)"],"range":[[1,0],[1,0],[1,0],[2,3],[1,0],[1,0],[7,3],[1,0],[7,3],[7,3]]},"legend":{"orient":"none","legendX":142,"legendY":5,"columns":3,"title":null}}
   }},
  {"transform":[{"filter":"datum.s !== 'Random'"}],
   "mark":{"type":"point","filled":true,"size":14,"opacity":1},
   "encoding":{"color":{"field":"s","type":"nominal","legend":null}}},
  {"transform":[{"filter":"datum.s === 'Random'"}],
   "mark":{"type":"point","filled":false,"size":16,"strokeWidth":1,"opacity":1,"shape":"M-1,-1L1,1M-1,1L1,-1"},
   "encoding":{"color":{"field":"s","type":"nominal","legend":null}}}
 ]
}
]
}
